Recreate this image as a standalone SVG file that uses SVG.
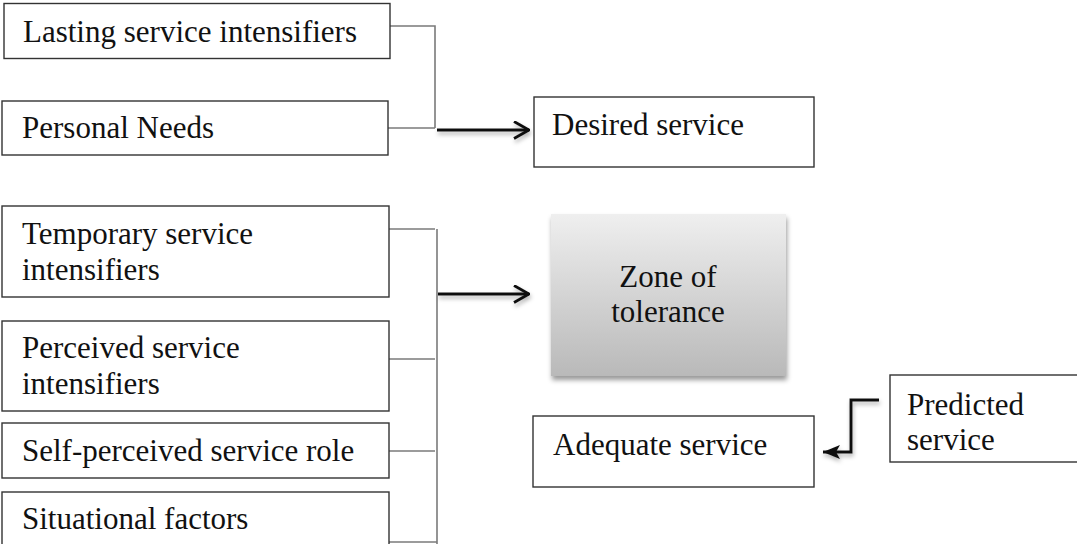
<svg xmlns="http://www.w3.org/2000/svg" width="1077" height="544" viewBox="0 0 1077 544">
  <defs>
    <style>
      .box { fill: #ffffff; stroke: #333333; stroke-width: 1.4; }
      .lbl { font-family: "Liberation Serif", "Times New Roman", serif; font-size: 31px; fill: #111111; }
      .mid { text-anchor: middle; }
      .tie { fill: none; stroke: #7a7a7a; stroke-width: 1.6; }
      .flow { fill: none; stroke: #111111; stroke-width: 2.9; }
    </style>
    <linearGradient id="zoneFill" x1="0" y1="0" x2="0" y2="1">
      <stop offset="0" stop-color="#efefef"/>
      <stop offset="1" stop-color="#b9b9b9"/>
    </linearGradient>
    <!-- user-space region so zero-height lines still get their shadow -->
    <filter id="softShadow" filterUnits="userSpaceOnUse" x="0" y="0" width="1077" height="544">
      <feDropShadow dx="1" dy="3" stdDeviation="2" flood-color="#000000" flood-opacity="0.3"/>
    </filter>
    <filter id="boxShadow" x="-10%" y="-10%" width="125%" height="125%">
      <feDropShadow dx="1" dy="4" stdDeviation="2.5" flood-color="#000000" flood-opacity="0.4"/>
    </filter>
    <marker id="chevron" viewBox="0 0 17 19" refX="16" refY="9.5" markerWidth="17" markerHeight="19" markerUnits="userSpaceOnUse" orient="auto">
      <path d="M1,1 L16,9.5 L1,18" fill="none" stroke="#111111" stroke-width="2.8"/>
    </marker>
    <marker id="solidHead" viewBox="0 0 18 17" refX="17" refY="8.5" markerWidth="18" markerHeight="17" markerUnits="userSpaceOnUse" orient="auto">
      <path d="M0,1.5 L17,8.5 L0,15.5 L4,8.5 Z" fill="#111111"/>
    </marker>
  </defs>

  <!-- connectors -->
  <g id="connectors">
    <!-- desired-service feeders -->
    <polyline class="tie" points="390,26 435,26 435,128"/>
    <line class="tie" x1="388" y1="128" x2="435" y2="128"/>
    <g filter="url(#softShadow)">
      <line class="flow" x1="437" y1="130" x2="529" y2="130" marker-end="url(#chevron)"/>
    </g>

    <!-- zone-of-tolerance bracket -->
    <line class="tie" x1="437" y1="229" x2="437" y2="544"/>
    <line class="tie" x1="389" y1="229" x2="435" y2="229"/>
    <line class="tie" x1="389" y1="359" x2="435" y2="359"/>
    <line class="tie" x1="389" y1="451" x2="435" y2="451"/>
    <line class="tie" x1="389" y1="542" x2="437" y2="542"/>
    <g filter="url(#softShadow)">
      <line class="flow" x1="438" y1="294" x2="529" y2="294" marker-end="url(#chevron)"/>
    </g>

    <!-- predicted to adequate -->
    <g filter="url(#softShadow)">
      <polyline class="flow" points="879,400 851,400 851,452 823,452" stroke-width="3" marker-end="url(#solidHead)"/>
    </g>
  </g>

  <g id="lasting">
    <rect class="box" x="4" y="3.5" width="386" height="55"/>
    <text class="lbl" x="23" y="42">Lasting service intensifiers</text>
  </g>

  <g id="personal-needs">
    <rect class="box" x="2" y="101" width="386" height="54"/>
    <text class="lbl" x="22" y="138">Personal Needs</text>
  </g>

  <g id="desired">
    <rect class="box" x="534" y="97" width="280" height="70"/>
    <text class="lbl" x="552" y="135">Desired service</text>
  </g>

  <g id="temporary">
    <rect class="box" x="2" y="206" width="387" height="91"/>
    <text class="lbl" x="22" y="244">Temporary service</text>
    <text class="lbl" x="22" y="280">intensifiers</text>
  </g>

  <g id="perceived">
    <rect class="box" x="2" y="321" width="387" height="90"/>
    <text class="lbl" x="22" y="358">Perceived service</text>
    <text class="lbl" x="22" y="394">intensifiers</text>
  </g>

  <g id="self-perceived">
    <rect class="box" x="2" y="423" width="387" height="55"/>
    <text class="lbl" x="22" y="461">Self-perceived service role</text>
  </g>

  <g id="situational">
    <rect class="box" x="2" y="492" width="387" height="60"/>
    <text class="lbl" x="22" y="529">Situational factors</text>
  </g>

  <g id="zone">
    <rect x="551" y="214" width="235" height="162" fill="url(#zoneFill)" filter="url(#boxShadow)"/>
    <text class="lbl mid" x="668" y="287">Zone of</text>
    <text class="lbl mid" x="668" y="322">tolerance</text>
  </g>

  <g id="adequate">
    <rect class="box" x="533" y="416" width="281" height="71"/>
    <text class="lbl" x="553" y="455">Adequate service</text>
  </g>

  <g id="predicted">
    <rect class="box" x="890" y="375" width="200" height="87"/>
    <text class="lbl" x="907" y="415">Predicted</text>
    <text class="lbl" x="907" y="450">service</text>
  </g>
</svg>
